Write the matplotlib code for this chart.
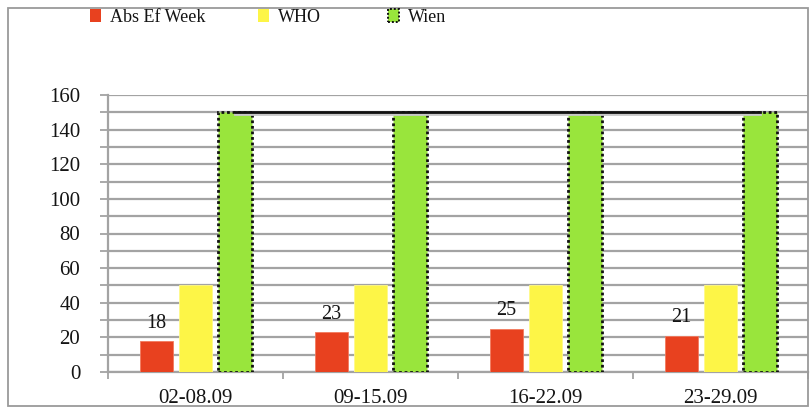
import matplotlib
matplotlib.use("Agg")
import matplotlib.pyplot as plt
import matplotlib.patches as mpatches
import matplotlib.transforms as mtransforms
import numpy as np

# Weekly values
weeks = ["02-08.09", "09-15.09", "16-22.09", "23-29.09"]
abs_ef_week = [18, 23, 25, 21]
who_limit = [50, 50, 50, 50]
wien_limit = [150, 150, 150, 150]
series_names = ["Abs Ef Week", "WHO", "Wien"]
y_ticks = [0, 20, 40, 60, 80, 100, 120, 140, 160]

RED = "#E8411F"
YELLOW = "#FDF547"
GREEN = "#99E53C"
GRID = "#A3A3A3"
TEXT = "#141414"

plt.rcParams["font.family"] = ["Liberation Serif", "DejaVu Serif"]

fig = plt.figure(figsize=(8.11, 4.09), dpi=100)
W, H = 811, 409

# outer frame around the whole chart
fig.patches.append(mpatches.Rectangle((8 / W, 1 - 406 / H), 800 / W, 398 / H,
                                      transform=fig.transFigure, fill=False,
                                      edgecolor="#9A9A9A", linewidth=1.3))

ax = fig.add_axes([108 / W, 1 - 372 / H, 700 / W, 277 / H])

x = np.arange(len(weeks))
bw = 0.19
off = 0.225

ax.bar(x - off, abs_ef_week, bw, color=RED, edgecolor="#F27A5E", linewidth=0.6, zorder=3)
ax.bar(x, who_limit, bw, color=YELLOW, edgecolor="#FFF98A", linewidth=0.6, zorder=3)
ax.bar(x + off, wien_limit, bw, color=GREEN, edgecolor="#111111", linewidth=2.0,
       linestyle=(0, (1.0, 1.0)), zorder=3)

# Wien limit line across the green bars, with a faint shadow
shadow = ax.transData + mtransforms.ScaledTranslation(0, -2 / 100, fig.dpi_scale_trans)
ax.plot(x + off, wien_limit, color="#C8C8C8", linewidth=2.0, zorder=4, transform=shadow)
ax.plot(x + off, wien_limit, color="#111111", linewidth=2.0, zorder=5)

for xi, v in zip(x - off, abs_ef_week):
    ax.annotate(str(v), (xi, v), xytext=(0, 6), textcoords="offset points",
                ha="center", va="bottom", fontsize=14.5, color=TEXT, zorder=6)

ax.set_xlim(-0.5, len(weeks) - 0.5)
ax.set_ylim(0, 160)

ax.set_yticks(y_ticks)
ax.set_yticks(np.arange(0, 161, 10), minor=True)
ax.yaxis.grid(True, which="both", color=GRID, linewidth=1.6, zorder=1)
ax.set_axisbelow(True)

ax.set_xticks(x)
ax.set_xticklabels(weeks)
ax.set_xticks(np.arange(-0.5, len(weeks), 1.0), minor=True)

ax.tick_params(axis="y", which="both", direction="out", length=6, width=1.3,
               color=GRID, labelsize=15, pad=14, labelcolor=TEXT)
ax.tick_params(axis="x", which="major", length=0, labelsize=15, pad=12,
               labelcolor=TEXT)
ax.tick_params(axis="x", which="minor", direction="out", length=5, width=1.3,
               color=GRID)

for side in ["top", "right"]:
    ax.spines[side].set_visible(False)
for side in ["left", "bottom"]:
    ax.spines[side].set_color(GRID)
    ax.spines[side].set_linewidth(1.6)

# Legend: one entry per series, spread along the top
handles = [
    mpatches.Patch(facecolor=RED, edgecolor="none"),
    mpatches.Patch(facecolor=YELLOW, edgecolor="none"),
    mpatches.Patch(facecolor=GREEN, edgecolor="#111111", linewidth=1.4, linestyle=(0, (1.0, 1.0))),
]
legend_x = [90, 258, 388]
for h, name, lx in zip(handles, series_names, legend_x):
    leg = fig.legend([h], [name], loc="center left", bbox_to_anchor=(lx / W, 1 - 17 / H),
                     frameon=False, fontsize=13, handlelength=0.6, handleheight=0.7,
                     handletextpad=0.5, borderpad=0, borderaxespad=0)
    for t in leg.get_texts():
        t.set_color(TEXT)

fig.savefig("out.png", dpi=100)
